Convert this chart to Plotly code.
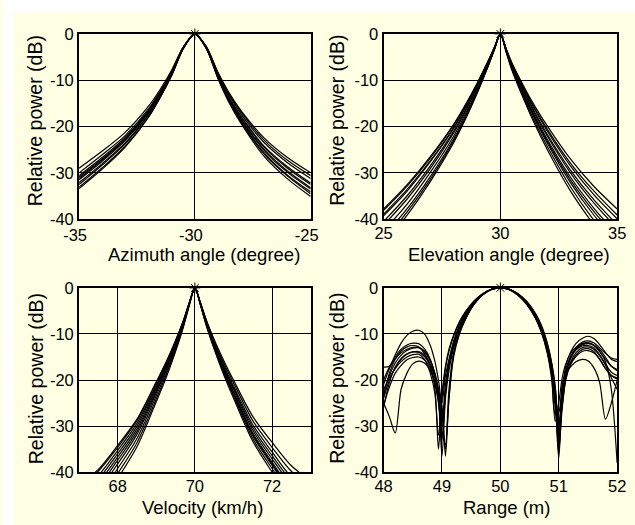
import plotly.graph_objects as go

# ---------------- data ----------------
Y_TICKS = [0, -10, -20, -30, -40]
Y_TICKTEXT = ["0", "-10", "-20", "-30", "-40"]

AZ_TICKS = [-35, -30, -25]
AZ_TICKTEXT = ["-35", "-30", "-25"]
EL_TICKS = [25, 30, 35]
EL_TICKTEXT = ["25", "30", "35"]
V_TICKS = [68, 70, 72]
V_TICKTEXT = ["68", "70", "72"]
R_TICKS = [48, 49, 50, 51, 52]
R_TICKTEXT = ["48", "49", "50", "51", "52"]

PEAK_AZ = -30
PEAK_EL = 30
PEAK_V = 70
PEAK_R = 50

AZ_X = [-35, -34, -33, -32, -31.5, -31, -30.5, -30, -29.5, -29, -28.5, -28, -27, -26, -25]
AZ_1 = [-29.0, -25.3, -21.2, -15.6, -12.0, -7.8, -2.8, 0, -2.8, -8.3, -12.9, -16.6, -22.5, -26.7, -30.0]
AZ_2 = [-30.0, -26.1, -21.9, -16.2, -12.4, -8.1, -2.9, 0, -2.9, -8.6, -13.4, -17.3, -23.5, -27.8, -31.2]
AZ_3 = [-30.6, -26.7, -22.3, -16.5, -12.6, -8.2, -2.9, 0, -3.0, -8.9, -13.9, -17.8, -24.3, -28.7, -32.2]
AZ_4 = [-31.2, -27.2, -22.8, -16.8, -12.9, -8.4, -3.0, 0, -3.0, -9.0, -14.0, -18.0, -24.5, -29.0, -32.5]
AZ_5 = [-31.5, -27.5, -23.0, -17.0, -13.0, -8.5, -3.0, 0, -3.1, -9.2, -14.3, -18.4, -25.0, -29.6, -33.2]
AZ_6 = [-32.1, -28.0, -23.5, -17.3, -13.3, -8.7, -3.1, 0, -3.1, -9.3, -14.4, -18.5, -25.2, -29.9, -33.5]
AZ_7 = [-32.5, -28.3, -23.7, -17.5, -13.4, -8.8, -3.1, 0, -3.2, -9.5, -14.7, -18.9, -25.7, -30.5, -34.1]
AZ_8 = [-33.1, -28.9, -24.2, -17.9, -13.7, -8.9, -3.2, 0, -3.2, -9.5, -14.8, -19.1, -26.0, -30.7, -34.5]
AZ_9 = [-33.4, -29.2, -24.4, -18.0, -13.8, -9.0, -3.2, 0, -3.2, -9.7, -15.1, -19.4, -26.5, -31.3, -35.1]
AZ_10 = [-30.9, -27.0, -22.5, -16.7, -12.7, -8.3, -2.9, 0, -2.8, -8.5, -13.2, -16.9, -23.0, -27.3, -30.6]

EL_X = [25, 26, 27, 28, 28.5, 29, 29.5, 29.75, 30, 30.25, 30.5, 31, 31.5, 32, 33, 34, 35]
EL_1 = [-37.8, -32.6, -26.5, -19.5, -15.3, -10.7, -5.6, -2.8, 0, -3.2, -6.3, -11.3, -15.8, -19.8, -27.0, -32.9, -37.8]
EL_2 = [-38.1, -32.9, -26.8, -19.7, -15.5, -10.8, -5.6, -2.8, 0, -3.3, -6.7, -11.9, -16.6, -20.9, -28.5, -34.7, -39.9]
EL_3 = [-39.3, -34.0, -27.6, -20.4, -16.0, -11.2, -5.8, -2.9, 0, -3.4, -6.9, -12.3, -17.2, -21.6, -29.4, -35.8, -41.2]
EL_4 = [-40.5, -35.0, -28.5, -21.0, -16.5, -11.5, -6.0, -3.0, 0, -3.5, -7.0, -12.5, -17.5, -22.0, -30.0, -36.5, -42.0]
EL_5 = [-41.3, -35.7, -29.1, -21.4, -16.8, -11.7, -6.1, -3.1, 0, -3.6, -7.2, -12.9, -18.0, -22.7, -30.9, -37.6, -43.3]
EL_6 = [-42.5, -36.8, -29.9, -22.1, -17.3, -12.1, -6.3, -3.2, 0, -3.7, -7.4, -13.1, -18.4, -23.1, -31.5, -38.3, -44.1]
EL_7 = [-43.7, -37.8, -30.8, -22.7, -17.8, -12.4, -6.5, -3.2, 0, -3.9, -7.7, -13.8, -19.3, -24.2, -33.0, -40.2, -46.2]
EL_8 = [-45.4, -39.2, -31.9, -23.5, -18.5, -12.9, -6.7, -3.4, 0, -4.0, -7.9, -14.1, -19.8, -24.9, -33.9, -41.2, -47.5]
EL_9 = [-38.9, -33.6, -27.4, -20.2, -15.8, -11.0, -5.8, -2.9, 0, -3.7, -7.5, -13.4, -18.7, -23.5, -32.1, -39.1, -44.9]
EL_10 = [-44.6, -38.5, -31.4, -23.1, -18.2, -12.7, -6.6, -3.3, 0, -3.3, -6.5, -11.6, -16.3, -20.5, -27.9, -33.9, -39.1]

V_X = [67, 67.5, 68, 68.5, 69, 69.25, 69.5, 69.7, 69.85, 70, 70.15, 70.3, 70.5, 70.75, 71, 71.5, 72, 72.5, 73]
V_1 = [-42.8, -39.4, -34.2, -28.5, -20.4, -16.2, -11.4, -7.1, -3.3, 0, -3.3, -7.0, -11.2, -15.8, -20.0, -27.9, -33.5, -38.6, -41.9]
V_2 = [-44.1, -40.7, -35.3, -29.4, -21.1, -16.7, -11.8, -7.4, -3.4, 0, -3.4, -7.2, -11.5, -16.3, -20.6, -28.8, -34.6, -39.8, -43.2]
V_3 = [-45.0, -41.5, -36.0, -30.0, -21.5, -17.0, -12.0, -7.5, -3.5, 0, -3.5, -7.4, -11.9, -16.8, -21.3, -29.7, -35.6, -41.1, -44.6]
V_4 = [-45.9, -42.3, -36.7, -30.6, -21.9, -17.3, -12.2, -7.7, -3.6, 0, -3.5, -7.6, -12.1, -17.2, -21.7, -30.3, -36.4, -41.9, -45.5]
V_5 = [-46.8, -43.2, -37.4, -31.2, -22.4, -17.7, -12.5, -7.8, -3.6, 0, -3.6, -7.7, -12.4, -17.5, -22.1, -30.9, -37.1, -42.7, -46.4]
V_6 = [-47.7, -44.0, -38.2, -31.8, -22.8, -18.0, -12.7, -8.0, -3.7, 0, -3.7, -7.9, -12.6, -17.9, -22.6, -31.5, -37.8, -43.6, -47.3]
V_7 = [-49.0, -45.2, -39.2, -32.7, -23.4, -18.5, -13.1, -8.2, -3.8, 0, -3.7, -8.0, -12.8, -18.2, -23.0, -32.1, -38.5, -44.4, -48.2]
V_8 = [-50.4, -46.5, -40.3, -33.6, -24.1, -19.0, -13.4, -8.4, -3.9, 0, -3.8, -8.2, -13.1, -18.5, -23.4, -32.7, -39.2, -45.2, -49.0]
V_9 = [-51.8, -47.7, -41.4, -34.5, -24.7, -19.6, -13.8, -8.6, -4.0, 0, -3.9, -8.3, -13.3, -18.9, -23.9, -33.3, -40.0, -46.1, -50.0]
V_10 = [-43.2, -39.8, -34.6, -28.8, -20.6, -16.3, -11.5, -7.2, -3.4, 0, -3.7, -8.0, -12.7, -18.0, -22.8, -31.8, -38.2, -44.0, -47.7]

R_X = [48.0, 48.1, 48.2, 48.3, 48.4, 48.5, 48.6, 48.7, 48.8, 48.88, 48.94, 49.0, 49.06, 49.12, 49.2,
       49.3, 49.4, 49.55, 49.7, 49.85, 50.0, 50.15, 50.3, 50.45, 50.6, 50.7, 50.8, 50.88, 50.94, 51.0,
       51.06, 51.12, 51.2, 51.3, 51.4, 51.5, 51.6, 51.7, 51.8, 51.9, 52.0]
R_1 = [-17.2, -17.0, -14.5, -12.0, -10.3, -9.4, -9.2, -10.0, -12.5, -16.0, -20.0, -25.0, -19.0, -15.5, -11.5,
       -8.0, -5.5, -3.0, -1.3, -0.3, 0, -0.3, -1.4, -3.3, -6.3, -9.2, -13.2, -18.0, -24.0, -30.0,
       -22.0, -17.0, -14.0, -12.0, -11.0, -10.5, -11.0, -12.3, -14.0, -15.5, -16.0]
R_2 = [-25.0, -28.0, -31.5, -22.0, -18.5, -16.5, -15.9, -16.3, -18.0, -21.0, -25.0, -31.0, -34.0, -24.0, -14.5,
       -9.8, -6.8, -3.5, -1.5, -0.3, 0, -0.3, -1.3, -3.0, -5.8, -8.5, -12.3, -17.0, -23.0, -33.0,
       -25.0, -19.5, -16.5, -14.5, -13.4, -13.2, -13.8, -15.5, -17.5, -19.0, -19.5]
R_3 = [-21.0, -17.5, -15.0, -13.3, -12.4, -12.0, -12.1, -13.2, -15.5, -19.0, -24.0, -36.5, -24.0, -18.0, -13.0,
       -9.0, -6.2, -3.3, -1.4, -0.3, 0, -0.3, -1.4, -3.2, -6.0, -8.8, -12.8, -17.8, -24.5, -37.0,
       -24.0, -19.0, -15.5, -13.2, -12.1, -11.9, -12.4, -13.8, -16.0, -22.0, -38.0]
R_4 = [-23.0, -19.0, -16.3, -14.6, -13.6, -13.1, -13.0, -13.8, -15.8, -18.5, -22.0, -27.0, -35.0, -22.0, -14.0,
       -9.4, -6.5, -3.4, -1.4, -0.3, 0, -0.4, -1.6, -3.6, -6.6, -9.6, -14.0, -20.0, -29.0, -25.0,
       -19.5, -16.5, -14.3, -12.8, -12.1, -12.0, -12.5, -13.8, -15.5, -17.0, -17.7]
R_5 = [-24.0, -20.0, -17.3, -15.5, -14.4, -13.9, -13.8, -14.5, -16.5, -19.5, -24.0, -33.0, -23.0, -17.0, -12.5,
       -8.8, -6.1, -3.2, -1.4, -0.3, 0, -0.3, -1.3, -3.1, -5.9, -8.6, -12.5, -17.3, -23.0, -35.0,
       -26.0, -20.0, -16.8, -14.8, -13.8, -13.6, -14.1, -15.4, -17.5, -19.0, -19.8]
R_6 = [-22.0, -19.5, -17.5, -16.0, -15.0, -14.5, -14.4, -15.5, -18.5, -23.0, -32.0, -24.0, -17.5, -13.8, -10.5,
       -7.5, -5.3, -2.9, -1.3, -0.3, 0, -0.3, -1.2, -2.9, -5.5, -8.0, -11.8, -16.3, -21.5, -30.0,
       -23.0, -18.0, -15.0, -13.3, -12.4, -12.1, -12.4, -13.4, -15.0, -17.0, -18.0]
R_7 = [-25.5, -21.5, -18.5, -16.8, -15.6, -15.1, -15.0, -15.6, -17.5, -20.5, -24.5, -30.5, -22.5, -16.5, -12.2,
       -8.6, -6.0, -3.2, -1.4, -0.3, 0, -0.3, -1.5, -3.4, -6.4, -9.3, -13.6, -19.0, -27.5, -27.0,
       -21.0, -18.5, -17.2, -16.0, -15.5, -15.8, -17.3, -20.5, -28.5, -25.0, -20.0]
R_8 = [-26.0, -20.5, -17.2, -15.3, -14.3, -13.9, -14.0, -14.9, -16.8, -19.3, -22.0, -25.5, -36.5, -24.0, -15.0,
       -10.0, -6.9, -3.6, -1.5, -0.4, 0, -0.4, -1.5, -3.5, -6.5, -9.4, -13.6, -18.8, -26.0, -32.0,
       -23.0, -18.3, -15.3, -13.4, -12.6, -12.5, -13.0, -14.5, -16.5, -18.3, -19.0]
R_9 = [-20.0, -17.2, -15.4, -14.1, -13.3, -12.9, -12.9, -13.7, -15.8, -18.8, -22.5, -29.0, -21.0, -16.0, -12.0,
       -8.5, -5.9, -3.1, -1.3, -0.3, 0, -0.3, -1.3, -3.0, -5.7, -8.3, -12.0, -16.5, -21.5, -31.0,
       -25.5, -19.8, -16.2, -14.0, -13.0, -12.8, -13.3, -14.7, -16.8, -19.5, -22.0]
R_10 = [-23.5, -18.5, -15.5, -13.7, -12.8, -12.5, -12.8, -14.2, -17.0, -22.0, -35.0, -23.0, -17.0, -13.3, -10.2,
        -7.3, -5.2, -2.8, -1.2, -0.3, 0, -0.3, -1.3, -3.1, -5.8, -8.5, -12.4, -17.3, -23.8, -36.0,
        -23.5, -18.2, -15.0, -12.9, -11.8, -11.5, -11.9, -13.0, -14.2, -15.2, -15.5]

AZ_CURVES = [AZ_1, AZ_2, AZ_3, AZ_4, AZ_5, AZ_6, AZ_7, AZ_8, AZ_9, AZ_10]
EL_CURVES = [EL_1, EL_2, EL_3, EL_4, EL_5, EL_6, EL_7, EL_8, EL_9, EL_10]
V_CURVES = [V_1, V_2, V_3, V_4, V_5, V_6, V_7, V_8, V_9, V_10]
R_CURVES = [R_1, R_2, R_3, R_4, R_5, R_6, R_7, R_8, R_9, R_10]

X_TITLES = ["Azimuth angle (degree)", "Elevation angle (degree)", "Velocity (km/h)", "Range (m)"]
Y_TITLE = "Relative power (dB)"

# ---------------- figure ----------------
W, H = 635, 525
BG = "#FFFFE3"
FONT = "Liberation Sans, Arial, sans-serif"
# plotting area actually available to paper coordinates (plotly keeps ~8 px)
PX0, PY0, PW, PH = 8, 8, 619, 509


def fx(p):
    return (p - PX0) / PW


def fy(p):
    return 1 - (p - PY0) / PH


panels = [
    ((72, 307), (33, 219), [-35, -25], AZ_TICKS, AZ_TICKTEXT, AZ_X, AZ_CURVES, PEAK_AZ, -4, 0),
    ((381, 618), (33, 219), [25, 35], EL_TICKS, EL_TICKTEXT, EL_X, EL_CURVES, PEAK_EL, 0, -2),
    ((72, 307), (288, 473), [67, 73], V_TICKS, V_TICKTEXT, V_X, V_CURVES, PEAK_V, 0, -2),
    ((381, 618), (288, 473), [48, 52], R_TICKS, R_TICKTEXT, R_X, R_CURVES, PEAK_R, 0, -2),
]

fig = go.Figure()
layout = {}
for i, (xd, yd, xr, xt, xtt, xs, curves, peak, shift, standoff) in enumerate(panels):
    n = "" if i == 0 else str(i + 1)
    for c in curves:
        fig.add_trace(go.Scatter(x=xs, y=c, mode="lines", xaxis="x" + n, yaxis="y" + n,
                                 line=dict(color="black", width=1.2, shape="spline", smoothing=0.8),
                                 hoverinfo="skip", showlegend=False))
    fig.add_trace(go.Scatter(x=[peak], y=[0], mode="markers", xaxis="x" + n, yaxis="y" + n,
                             marker=dict(symbol="asterisk-open", size=9, color="black",
                                         line=dict(color="black", width=1)),
                             cliponaxis=False, hoverinfo="skip", showlegend=False))
    common = dict(showline=True, mirror=True, linecolor="black", linewidth=2,
                  showgrid=True, gridcolor="black", gridwidth=1.2, zeroline=False, ticks="",
                  tickfont=dict(family=FONT, size=16.5, color="black"), fixedrange=True)
    layout["xaxis" + n] = dict(domain=[fx(xd[0]), fx(xd[1])], range=xr, anchor="y" + n,
                               tickmode="array", tickvals=xt, ticktext=xtt, ticklabelshift=shift,
                               ticklabelstandoff=standoff, **common)
    layout["yaxis" + n] = dict(domain=[fy(yd[1]), fy(yd[0])], range=[-40, 0], anchor="x" + n,
                               tickmode="array", tickvals=Y_TICKS, ticktext=Y_TICKTEXT, **common)

ann = []
xt_pos = [(199, 254), (508, 254), (197, 508), (506, 508)]
yt_pos = [(27, 120), (333, 120), (28, 379), (333, 379)]
for i in range(4):
    ann.append(dict(text=X_TITLES[i], x=fx(xt_pos[i][0]), y=fy(xt_pos[i][1]), xref="paper", yref="paper",
                    xanchor="center", yanchor="middle", showarrow=False,
                    font=dict(family=FONT, size=18.5, color="black")))
    ann.append(dict(text=Y_TITLE, x=fx(yt_pos[i][0]), y=fy(yt_pos[i][1]), xref="paper", yref="paper",
                    xanchor="center", yanchor="middle", showarrow=False, textangle=-90,
                    font=dict(family=FONT, size=19.5, color="black")))

fig.update_layout(
    width=W, height=H, margin=dict(l=0, r=0, t=0, b=0),
    paper_bgcolor=BG, plot_bgcolor=BG,
    shapes=[
        dict(type="rect", xref="paper", yref="paper", x0=fx(-5), x1=fx(W + 5), y0=fy(12), y1=fy(-5),
             fillcolor="white", line=dict(width=0), layer="below"),
        dict(type="rect", xref="paper", yref="paper", x0=fx(-5), x1=fx(6), y0=fy(H + 5), y1=fy(-5),
             fillcolor="white", line=dict(width=0), layer="below"),
    ],
    annotations=ann,
    **layout,
)
fig.write_html("out.html", config={"displayModeBar": False},
               post_script="document.body.style.margin='0';document.body.style.overflow='hidden';")
